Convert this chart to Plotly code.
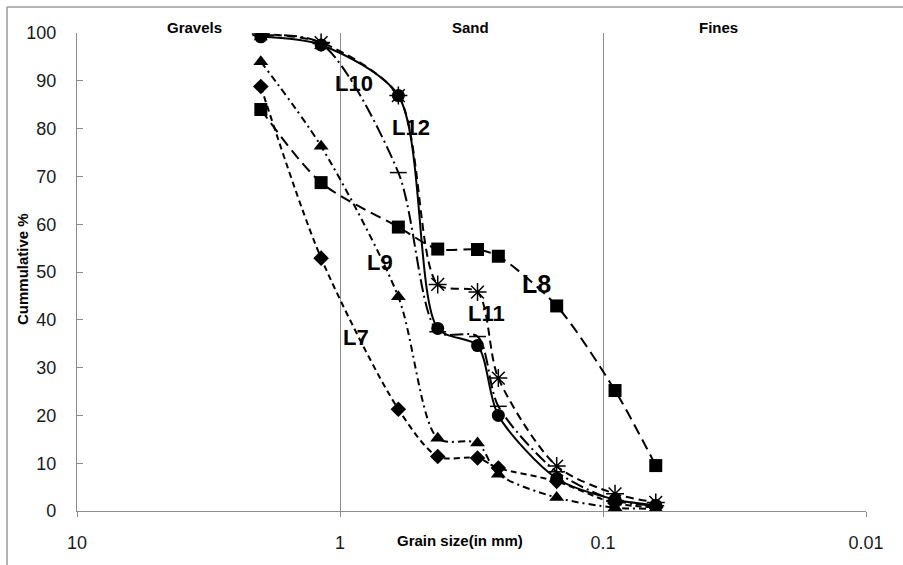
import math
import plotly.graph_objects as go

# ---- data ----
grain_size = [2.0, 1.18, 0.6, 0.425, 0.3, 0.25, 0.15, 0.09, 0.063]
L7 = [88.8, 52.9, 21.3, 11.4, 11.1, 9.0, 6.2, 1.6, 0.8]
L8 = [84.0, 68.7, 59.4, 54.8, 54.7, 53.3, 42.9, 25.2, 9.5]
L9 = [94.0, 76.3, 44.8, 15.2, 14.2, 7.7, 2.8, 0.7, 0.5]
L10 = [99.5, 97.8, 70.8, 37.5, 36.5, 21.9, 8.2, 2.2, 1.1]
L11 = [99.8, 98.0, 86.9, 47.4, 45.8, 27.8, 9.4, 3.6, 1.8]
L12 = [99.2, 97.5, 86.9, 38.2, 34.6, 20.0, 6.8, 2.4, 1.2]
series_names = ["L7", "L8", "L9", "L10", "L11", "L12"]
x_tick_vals = [10, 1, 0.1, 0.01]
x_tick_text = ["10", "1", "0.1", "0.01"]
zones = ["Gravels", "Sand", "Fines"]

# ---- styles ----
styles = {
    "L7": dict(symbol="diamond", size=12, dash="6px,4px"),
    "L8": dict(symbol="square", size=13, dash="11px,6px"),
    "L9": dict(symbol="triangle-up", size=13, dash="7px,4px,2px,4px"),
    "L10": dict(symbol="line-ew-open", size=12, dash="13px,4px,2px,4px"),
    "L11": dict(symbol="asterisk-open", size=15, dash="8px,5px"),
    "L12": dict(symbol="circle", size=13, dash="solid"),
}
values = {"L7": L7, "L8": L8, "L9": L9, "L10": L10, "L11": L11, "L12": L12}

FONT = "Liberation Sans, Arial"

fig = go.Figure()
for name in series_names:
    st = styles[name]
    open_marker = st["symbol"].endswith("open")
    fig.add_trace(go.Scatter(
        x=grain_size, y=values[name], name=name, mode="lines+markers",
        line=dict(color="black", width=2, dash=st["dash"], shape="spline", smoothing=0.8),
        marker=dict(symbol=st["symbol"], size=st["size"], color="black",
                    line=dict(color="black", width=1.5 if open_marker else 0)),
        showlegend=False,
    ))

# series labels (positions in data coordinates)
label_pos = {
    "L10": (0.882, 89.4, 22), "L12": (0.536, 80.2, 22), "L9": (0.703, 51.9, 22),
    "L7": (0.867, 36.3, 22), "L11": (0.278, 41.3, 22), "L8": (0.179, 47.5, 25),
}
for name, (lx, ly, fs) in label_pos.items():
    fig.add_annotation(x=math.log10(lx), y=ly, text=f"<b>{name}</b>", showarrow=False,
                       xanchor="center", yanchor="middle",
                       font=dict(family=FONT, size=fs, color="black"),
                       xref="x", yref="y")

# zone labels
zone_px = [194, 470, 718]
for z, px in zip(zones, zone_px):
    fig.add_annotation(x=(px - 77) / 789, y=(513 - 27) / 480, xref="paper", yref="paper",
                       text=f"<b>{z}</b>", showarrow=False, xanchor="center", yanchor="middle",
                       font=dict(family=FONT, size=15, color="black"))

# axis titles
fig.add_annotation(x=(460 - 77) / 789, y=(513 - 543) / 480, xref="paper", yref="paper",
                   text="<b>Grain size(in mm)</b>", showarrow=False,
                   xanchor="center", yanchor="middle",
                   font=dict(family=FONT, size=15, color="black"))
fig.add_annotation(x=(22 - 77) / 789, y=(513 - 270) / 480, xref="paper", yref="paper",
                   text="<b>Cummulative %</b>", showarrow=False, textangle=-90,
                   xanchor="center", yanchor="middle",
                   font=dict(family=FONT, size=15, color="black"))

# outer border (top and left visible)
border_col = "#9a9a9a"
fig.add_shape(type="line", xref="paper", yref="paper", x0=(7 - 77) / 789, x1=1.2,
              y0=(513 - 7) / 480, y1=(513 - 7) / 480, line=dict(color=border_col, width=1.5))
fig.add_shape(type="line", xref="paper", yref="paper", x0=(7 - 77) / 789, x1=(7 - 77) / 789,
              y0=(513 - 7) / 480, y1=-0.2, line=dict(color=border_col, width=1.5))

axis_col = "#8c8c8c"
fig.update_xaxes(type="log", range=[1, -2], tickvals=x_tick_vals, ticktext=x_tick_text,
                 showgrid=True, gridcolor=axis_col, gridwidth=1.2,
                 showline=True, linecolor=axis_col, linewidth=1.3,
                 ticks="outside", ticklen=5, tickcolor=axis_col,
                 tickfont=dict(family=FONT, size=18, color="#1a1a1a"),
                 ticklabelstandoff=10, zeroline=False)
fig.update_yaxes(range=[0, 100], dtick=10, showgrid=False,
                 showline=True, linecolor=axis_col, linewidth=1.3,
                 ticks="inside", ticklen=6, tickcolor=axis_col,
                 tickfont=dict(family=FONT, size=18, color="#1a1a1a"),
                 ticklabelstandoff=16, zeroline=False)

fig.update_layout(width=903, height=565, margin=dict(l=77, r=37, t=33, b=52),
                  plot_bgcolor="white", paper_bgcolor="white")

fig.write_html("out.html")
